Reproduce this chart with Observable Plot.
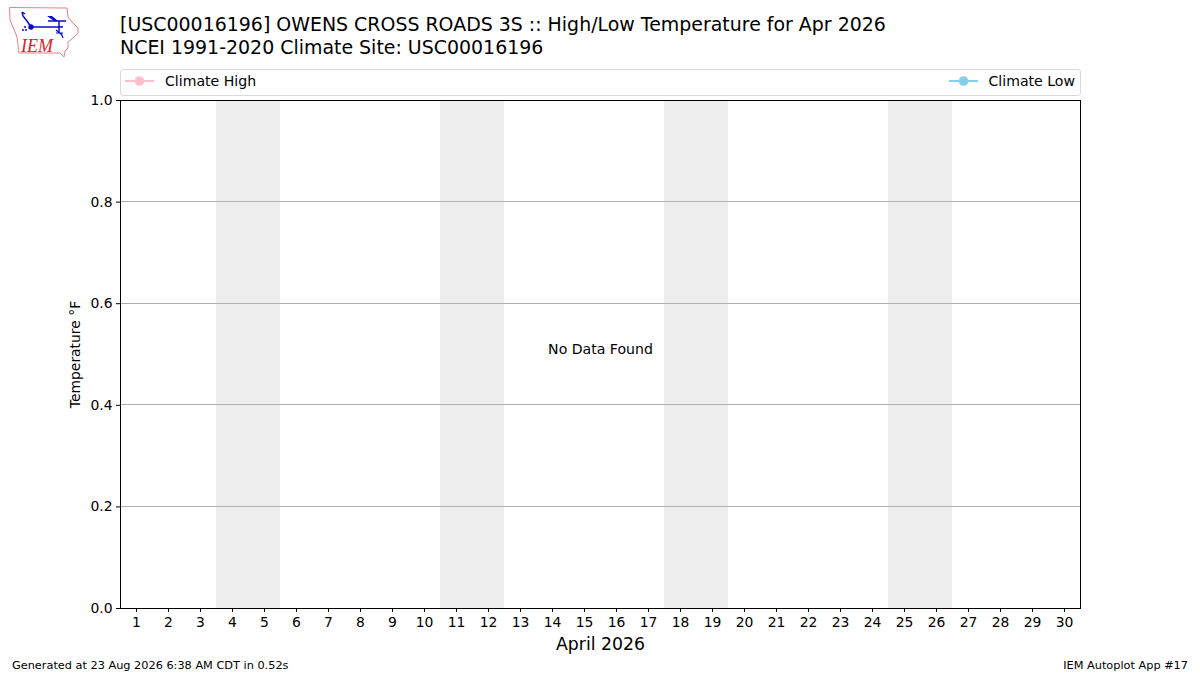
<!DOCTYPE html>
<html><head><meta charset="utf-8">
<script src="https://cdn.jsdelivr.net/npm/d3@7"></script>
<script src="https://cdn.jsdelivr.net/npm/@observablehq/plot@0.6"></script>
<style>
html,body{margin:0;padding:0;background:#fff;}
#wrap{position:relative;width:1200px;height:675px;overflow:hidden;font-family:"DejaVu Sans",sans-serif;color:#000;}
#chart{position:absolute;left:0;top:0;}
#chart svg{display:block;background:transparent;}
.t{position:absolute;white-space:nowrap;line-height:1;}
#legend{position:absolute;left:120px;top:69px;width:959px;height:25px;border:1px solid #d9d9d9;border-radius:3px;background:#fff;}
.foot{font-size:11.3px;}
</style></head><body>
<div id="wrap">
<div id="chart"></div>
<svg id="logo" style="position:absolute;left:0;top:0" width="90" height="62">
<path d="M9.5,7.5 L67,8 L68,17 L72,22 L78,28 L78,33 L73,38 L68,42 L68,48 L65,51 L64,57 L60,53 L19,53 L17,37 L13,27 L10,20 Z" fill="none" stroke="#e8818a" stroke-width="1"/>
<path d="M30,27 L63,27 M48,21 L66,21 M59,21 L59,33 M22,12 L23,16 L27,21 L31,27 M22,12 L25,14" fill="none" stroke="#0a0acc" stroke-width="1.5"/>
<path d="M47,16 L52,16 L58,21 L54,21 Z" fill="#0a0acc"/>
<circle cx="31" cy="27" r="2.7" fill="#0a0acc"/>
<circle cx="25" cy="27" r="1" fill="#0a0acc"/><circle cx="23" cy="30" r="1" fill="#0a0acc"/><circle cx="26" cy="30" r="1" fill="#0a0acc"/>
<path d="M56,30 L62,35 M56,33 L63,33 M61,33 L63,38" fill="none" stroke="#0a0acc" stroke-width="1.2"/>
<text x="21" y="52" font-family="Liberation Serif" font-style="italic" font-size="18" fill="#d8232a">IEM</text>
</svg>
<div class="t" id="t1" style="left:120px;top:15px;font-size:18.96px;"></div>
<div class="t" id="t2" style="left:120px;top:38px;font-size:18.96px;"></div>
<div id="legend"></div>
<div class="t foot" id="f1" style="left:12px;top:660px;"></div>
<div class="t foot" id="f2" style="right:12px;top:660px;"></div>
</div>
<script>
const titleLines = ["[USC00016196] OWENS CROSS ROADS 3S :: High/Low Temperature for Apr 2026","NCEI 1991-2020 Climate Site: USC00016196"];
const footLeft = "Generated at 23 Aug 2026 6:38 AM CDT in 0.52s";
const footRight = "IEM Autoplot App #17";
const days = d3.range(1,31);
const weekendStarts = [3.5,10.5,17.5,24.5];
const weekendEnds = [5.5,12.5,19.5,26.5];
const yTicks = [0,0.2,0.4,0.6,0.8,1.0];
const gridLevels = [0.2,0.4,0.6,0.8];
const noData = [{x:15.5,y:0.51,label:"No Data Found"}];
const bands = weekendStarts.map((a,i)=>({a,b:weekendEnds[i]}));

t1.textContent=titleLines[0]; t2.textContent=titleLines[1];
f1.textContent=footLeft; f2.textContent=footRight;

const legendItems=[{name:"Climate High",color:"#ffc0cb",side:"left"},{name:"Climate Low",color:"#87ceeb",side:"right"}];
legend.innerHTML=legendItems.map(d=>{
  const pos=d.side==="left"?"left:4px":"right:5px";
  return `<div style="position:absolute;${pos};top:-2px;height:25px;display:flex;align-items:center;font-size:14.1px;">
  <svg width="29" height="10" style="margin-right:11px"><line x1="0" x2="29" y1="5" y2="5" stroke="${d.color}" stroke-width="2"/><circle cx="14.5" cy="5" r="4.8" fill="${d.color}"/></svg><span>${d.name}</span></div>`;
}).join("");

const plot=Plot.plot({
  width:1200,height:675,
  marginLeft:120,marginRight:120,marginTop:100,marginBottom:67,
  style:{fontFamily:"DejaVu Sans",fontSize:"13.9px",color:"#000",background:"transparent"},
  x:{domain:[0.5,30.5],label:null},
  y:{domain:[0,1],label:null},
  marks:[
    Plot.rect(bands,{x1:"a",x2:"b",y1:0,y2:1,fill:"#eeeeee"}),
    Plot.ruleY(gridLevels,{stroke:"#b0b0b0",strokeWidth:1,dy:-0.5,shapeRendering:"crispEdges"}),
    Plot.frame({stroke:"#000",strokeWidth:1}),
    Plot.axisX({ticks:days,tickFormat:d=>String(d),tickSize:4,tickPadding:5,label:null,fontSize:13.9}),
    Plot.axisX({ticks:[],label:"April 2026",labelAnchor:"center",labelArrow:"none",labelOffset:41,fontSize:17.3}),
    Plot.axisY({ticks:yTicks,tickFormat:d=>d.toFixed(1),tickSize:4,tickPadding:4,label:"Temperature °F",labelAnchor:"center",labelArrow:"none",labelOffset:50,fontSize:13.9}),
    Plot.text(noData,{x:"x",y:"y",text:"label",fontSize:14.1,fill:"#000"})
  ]
});
chart.appendChild(plot);
</script>
</body></html>
